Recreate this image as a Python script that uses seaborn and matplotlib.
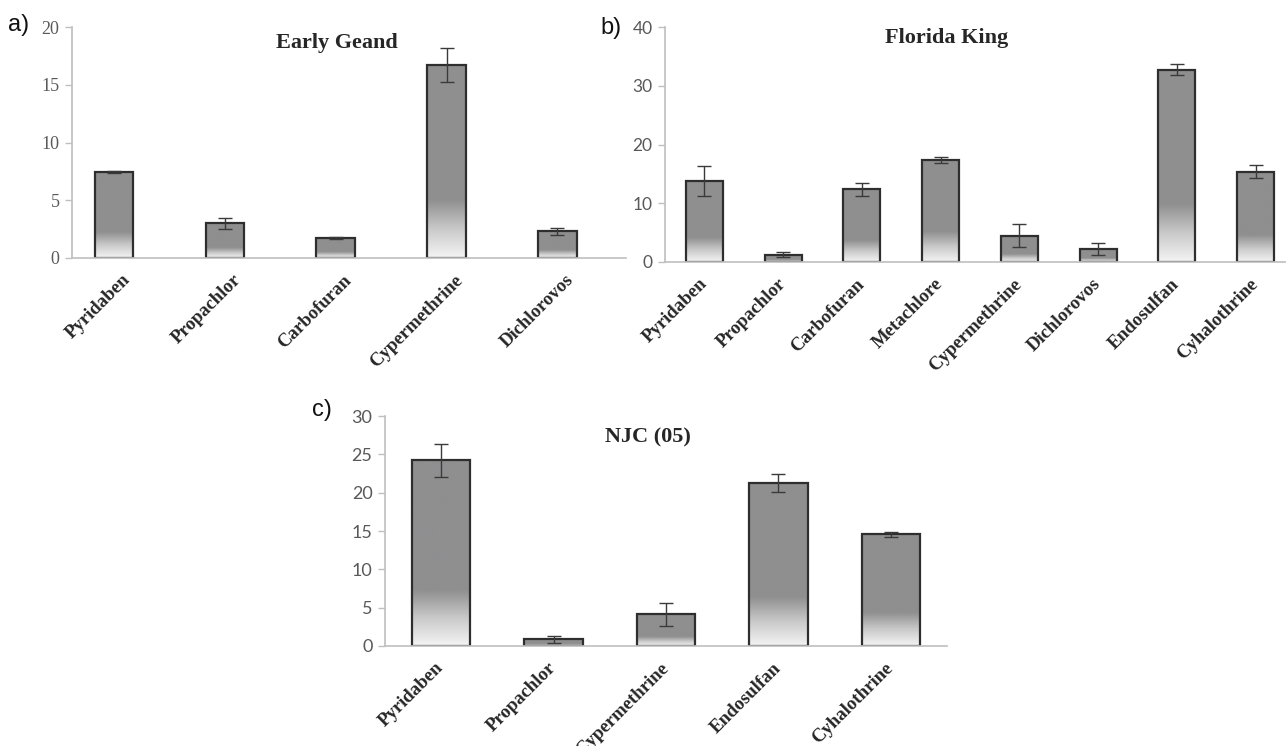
import numpy as np
import pandas as pd
import matplotlib
matplotlib.use("Agg")
import matplotlib.pyplot as plt
from matplotlib.colors import LinearSegmentedColormap
import seaborn as sns

# Residue levels per cultivar (mean and standard deviation)
cats_a = ["Pyridaben", "Propachlor", "Carbofuran", "Cypermethrine", "Dichlorovos"]
vals_a = [7.45, 3.0, 1.75, 16.7, 2.33]
errs_a = [0.1, 0.45, 0.08, 1.45, 0.3]

cats_b = ["Pyridaben", "Propachlor", "Carbofuran", "Metachlore",
          "Cypermethrine", "Dichlorovos", "Endosulfan", "Cyhalothrine"]
vals_b = [13.8, 1.25, 12.4, 17.3, 4.48, 2.2, 32.75, 15.4]
errs_b = [2.55, 0.37, 1.1, 0.5, 2.0, 0.95, 1.0, 1.1]

cats_c = ["Pyridaben", "Propachlor", "Cypermethrine", "Endosulfan", "Cyhalothrine"]
vals_c = [24.2, 0.87, 4.12, 21.3, 14.55]
errs_c = [2.17, 0.48, 1.54, 1.17, 0.35]

titles = ["Early Geand", "Florida King", "NJC (05)"]
panel_tags = ["a)", "b)", "c)"]
yticks = [[0, 5, 10, 15, 20], [0, 10, 20, 30, 40], [0, 5, 10, 15, 20, 25, 30]]

sns.set_theme(style="white")
plt.rcParams["font.family"] = ["DejaVu Sans"]

fig = plt.figure(figsize=(12.86, 7.46), dpi=100)

AXIS_GRAY = "#bfbfbf"
TICK_TXT = "#595959"
BAR_EDGE = "#2e2e2e"

shade = LinearSegmentedColormap.from_list(
    "shade", ["#f4f4f4", "#c9c9c9", "#8f8f90", "#8f8f90"], N=256)


def shade_bars(ax, fade=0.45):
    """Fill each bar with a vertical fade from light at its base to gray."""
    t = np.linspace(0, 1, 200)
    ramp = np.clip(t / fade, 0, 1)[:, None]
    for p in list(ax.patches):
        x0, w = p.get_x(), p.get_width()
        y0, h = p.get_y(), p.get_height()
        im = ax.imshow(ramp, cmap=shade, vmin=0, vmax=1, origin="lower",
                       extent=(x0, x0 + w, y0, y0 + h), aspect="auto",
                       interpolation="bilinear", zorder=1)
        im.set_clip_path(p)
        p.set_facecolor("none")
        p.set_edgecolor(BAR_EDGE)
        p.set_linewidth(1.6)
        p.set_zorder(2)


def panel(rect, cats, vals, errs, title, tag, ticks, width, shift,
          ytick_font, ytick_size, title_xy, tag_xy, label_size):
    ax = fig.add_axes(rect)
    df = pd.DataFrame({"pesticide": cats, "value": vals})
    sns.barplot(data=df, x="pesticide", y="value", ax=ax, width=width,
                color="#8f8f90", errorbar=None)
    n = len(cats)
    ax.errorbar(np.arange(n), vals, yerr=errs, fmt="none", ecolor="#3a3a3a",
                elinewidth=1.0, capsize=5, capthick=1.0, zorder=3)
    shade_bars(ax)

    ax.set_xlim(-0.5 + shift, n - 0.5 + shift)
    ax.set_ylim(ticks[0], ticks[-1])
    ax.set_xlabel("")
    ax.set_ylabel("")

    # category labels at the centre of each slot, ticks on slot boundaries
    ax.set_xticks(np.arange(n) + shift)
    ax.set_xticklabels(cats, rotation=45, ha="right", va="center",
                       rotation_mode="anchor", fontfamily="Liberation Serif",
                       fontweight="bold", fontsize=label_size, color="#262626")
    ax.tick_params(axis="x", which="major", length=0, pad=14)
    ax.set_xticks(np.arange(n + 1) - 0.5 + shift, minor=True)
    ax.tick_params(axis="x", which="minor", length=5, width=1,
                   color=AXIS_GRAY, direction="out")

    ax.set_yticks(ticks)
    ax.set_yticklabels([str(t) for t in ticks], fontfamily=ytick_font,
                       fontsize=ytick_size, color=TICK_TXT)
    ax.tick_params(axis="y", length=5, width=1, color=AXIS_GRAY,
                   direction="out", pad=4, left=True)

    for s in ["top", "right"]:
        ax.spines[s].set_visible(False)
    for s in ["left", "bottom"]:
        ax.spines[s].set_visible(True)
        ax.spines[s].set_color(AXIS_GRAY)
        ax.spines[s].set_linewidth(1.2)

    fig.text(title_xy[0], title_xy[1], title, ha="center", va="center",
             fontfamily="Liberation Serif", fontweight="bold", fontsize=16,
             color="#262626")
    fig.text(tag_xy[0], tag_xy[1], tag, ha="left", va="center",
             fontfamily="Liberation Sans", fontsize=17, color="#111111")
    return ax


W, H = 1286, 746


def fx(px):
    return px / W


def fy(py):
    return 1 - py / H


panel([fx(72), fy(258), fx(626) - fx(72), fy(27) - fy(258)],
      cats_a, vals_a, errs_a, titles[0], panel_tags[0], yticks[0],
      width=0.35, shift=0.12, ytick_font="Liberation Serif", ytick_size=13,
      title_xy=(fx(337), fy(43)), tag_xy=(fx(8), fy(25)), label_size=13.5)

panel([fx(665), fy(262), fx(1295) - fx(665), fy(27) - fy(262)],
      cats_b, vals_b, errs_b, titles[1], panel_tags[1], yticks[1],
      width=0.47, shift=0.0, ytick_font="Lato", ytick_size=12.5,
      title_xy=(fx(947), fy(38)), tag_xy=(fx(600), fy(28)), label_size=13.5)

panel([fx(385), fy(646), fx(947) - fx(385), fy(416) - fy(646)],
      cats_c, vals_c, errs_c, titles[2], panel_tags[2], yticks[2],
      width=0.52, shift=0.0, ytick_font="Lato", ytick_size=13,
      title_xy=(fx(648), fy(437)), tag_xy=(fx(312), fy(410)), label_size=13.5)

fig.savefig("out.png", dpi=100, facecolor="white")
